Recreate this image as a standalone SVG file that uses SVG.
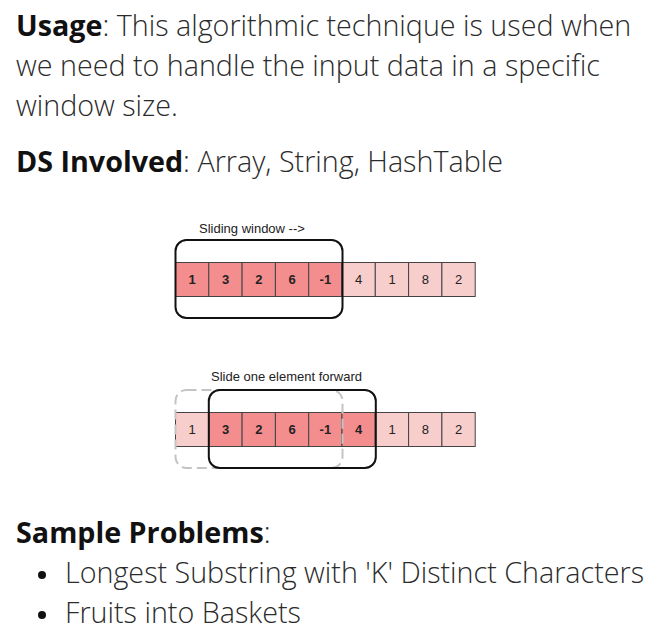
<svg xmlns="http://www.w3.org/2000/svg" width="657" height="642" viewBox="0 0 657 642">
<style>
.body{font-family:"Open Sans","Noto Sans",sans-serif;font-weight:300;font-size:28.7px;fill:#2b2b2b}
.b{font-weight:700;fill:#111}
.cell{stroke:#444;stroke-width:1}
.dark{fill:#F48E8E}
.light{fill:#F8CECC}
.num{font-family:"Liberation Sans",Arial,sans-serif;font-size:13px;text-anchor:middle;fill:#222}
.nb{font-weight:700}
.lbl{font-family:"Liberation Sans",Arial,sans-serif;font-size:13px;fill:#222}
.win{fill:none;stroke:#111;stroke-width:2}
.dash{fill:none;stroke:#c4c4c4;stroke-width:2;stroke-dasharray:10 5}
</style>
<rect width="657" height="642" fill="#fff"/>
<g id="text-usage">
<text class="body" x="16" y="36"><tspan class="b">Usage</tspan>: This algorithmic technique is used when</text>
<text class="body" x="16" y="76">we need to handle the input data in a specific</text>
<text class="body" x="16" y="116">window size.</text>
</g>
<g id="text-ds">
<text class="body" x="16" y="172"><tspan class="b">DS Involved</tspan>: Array, String, HashTable</text>
</g>
<g id="array-top">
<text class="lbl" x="199" y="233">Sliding window --&gt;</text>
<rect class="cell dark" x="175.5" y="262.5" width="33.3" height="34"/>
<rect class="cell dark" x="208.8" y="262.5" width="33.3" height="34"/>
<rect class="cell dark" x="242.1" y="262.5" width="33.3" height="34"/>
<rect class="cell dark" x="275.4" y="262.5" width="33.3" height="34"/>
<rect class="cell dark" x="308.7" y="262.5" width="33.3" height="34"/>
<rect class="cell light" x="342" y="262.5" width="33.3" height="34"/>
<rect class="cell light" x="375.3" y="262.5" width="33.3" height="34"/>
<rect class="cell light" x="408.6" y="262.5" width="33.3" height="34"/>
<rect class="cell light" x="441.9" y="262.5" width="33.3" height="34"/>
<text class="num nb" x="192.2" y="284">1</text>
<text class="num nb" x="225.5" y="284">3</text>
<text class="num nb" x="258.8" y="284">2</text>
<text class="num nb" x="292.1" y="284">6</text>
<text class="num nb" x="325.4" y="284">-1</text>
<text class="num" x="358.7" y="284">4</text>
<text class="num" x="392" y="284">1</text>
<text class="num" x="425.3" y="284">8</text>
<text class="num" x="458.6" y="284">2</text>
<rect id="window-top" class="win" x="175.5" y="240" width="167" height="78" rx="11"/>
</g>
<g id="array-bottom">
<text class="lbl" x="211" y="381">Slide one element forward</text>
<rect class="cell light" x="175.5" y="412.5" width="33.3" height="34"/>
<rect class="cell dark" x="208.8" y="412.5" width="33.3" height="34"/>
<rect class="cell dark" x="242.1" y="412.5" width="33.3" height="34"/>
<rect class="cell dark" x="275.4" y="412.5" width="33.3" height="34"/>
<rect class="cell dark" x="308.7" y="412.5" width="33.3" height="34"/>
<rect class="cell dark" x="342" y="412.5" width="33.3" height="34"/>
<rect class="cell light" x="375.3" y="412.5" width="33.3" height="34"/>
<rect class="cell light" x="408.6" y="412.5" width="33.3" height="34"/>
<rect class="cell light" x="441.9" y="412.5" width="33.3" height="34"/>
<text class="num" x="192.2" y="434">1</text>
<text class="num nb" x="225.5" y="434">3</text>
<text class="num nb" x="258.8" y="434">2</text>
<text class="num nb" x="292.1" y="434">6</text>
<text class="num nb" x="325.4" y="434">-1</text>
<text class="num nb" x="358.7" y="434">4</text>
<text class="num" x="392" y="434">1</text>
<text class="num" x="425.3" y="434">8</text>
<text class="num" x="458.6" y="434">2</text>
<rect id="window-old" class="dash" x="175.5" y="390" width="167" height="78" rx="11"/>
<rect id="window-new" class="win" x="208.8" y="390" width="167" height="78" rx="11"/>
</g>
<g id="text-samples">
<text class="body" x="16" y="543"><tspan class="b">Sample Problems</tspan>:</text>
<circle cx="42" cy="575" r="4" fill="#111"/>
<text class="body" x="65" y="583">Longest Substring with 'K' Distinct Characters</text>
<circle cx="42" cy="615" r="4" fill="#111"/>
<text class="body" x="65" y="623">Fruits into Baskets</text>
</g>
</svg>
